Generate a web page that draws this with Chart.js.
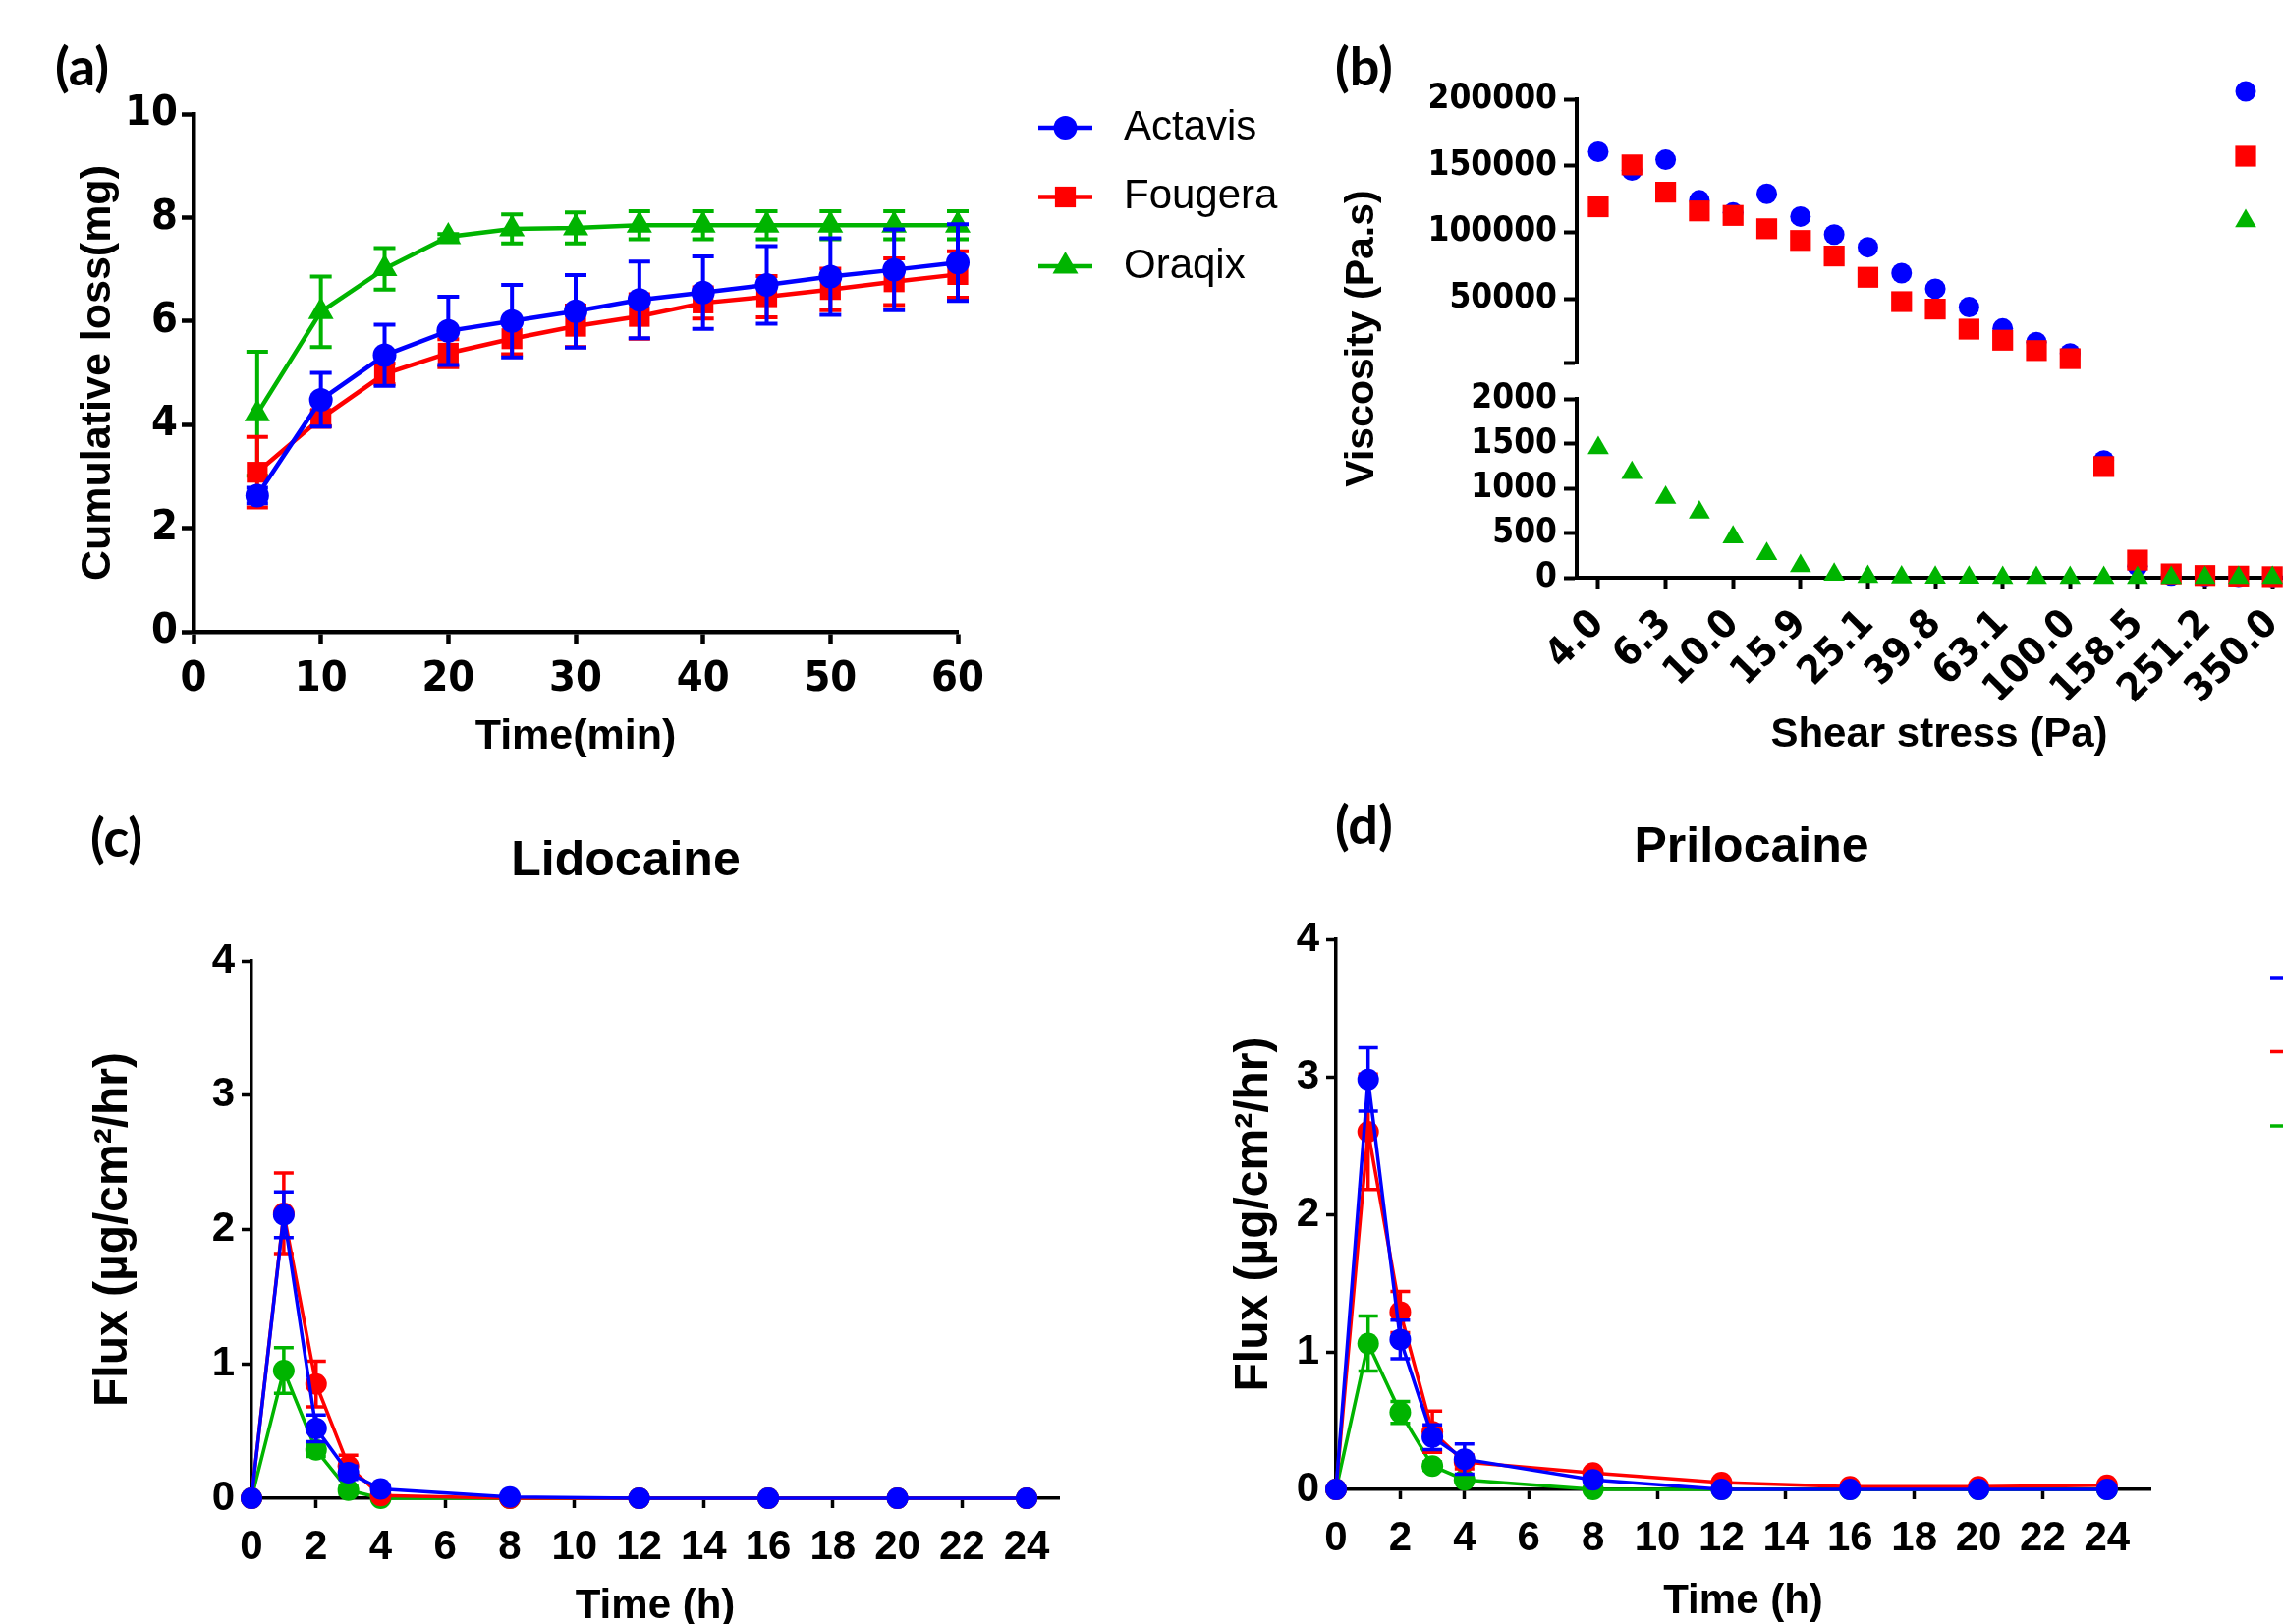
<!DOCTYPE html>
<html>
<head>
<meta charset="utf-8">
<title>Figura</title>
<script src="https://cdn.jsdelivr.net/npm/chart.js@4.4.1/dist/chart.umd.min.js"></script>
<style>
    html, body { margin: 0; padding: 0; background: #fff; }
    body { width: 2324px; height: 1653px; position: relative; overflow: hidden; }
    canvas { position: absolute; }
</style>
</head>
<body>
<canvas id="chartPerdida" width="1320" height="800" style="left:0px;top:0px"></canvas>
<canvas id="chartViscosidad" width="1100" height="800" style="left:1330px;top:0px"></canvas>
<canvas id="chartLidocaina" width="1200" height="870" style="left:0px;top:820px"></canvas>
<canvas id="chartPrilocaina" width="1160" height="890" style="left:1230px;top:800px"></canvas>
<script>
// ---- (a) Pérdida acumulada ----
const tiemposMin = [5, 10, 15, 20, 25, 30, 35, 40, 45, 50, 55, 60];
const perdidaActavis = [2.63, 4.48, 5.34, 5.81, 6.00, 6.19, 6.41, 6.55, 6.70, 6.86, 6.99, 7.13];
const sdPerdidaActavis = [0.15, 0.52, 0.59, 0.66, 0.70, 0.70, 0.74, 0.70, 0.75, 0.74, 0.78, 0.74];
const perdidaFougera = [3.08, 4.12, 4.98, 5.38, 5.66, 5.90, 6.09, 6.35, 6.47, 6.61, 6.76, 6.90];
const sdPerdidaFougera = [0.68, 0.15, 0.20, 0.27, 0.30, 0.40, 0.43, 0.30, 0.40, 0.40, 0.45, 0.45];
const perdidaOraqix = [4.21, 6.18, 7.01, 7.63, 7.78, 7.80, 7.85, 7.85, 7.85, 7.85, 7.85, 7.85];
const sdPerdidaOraqix = [1.20, 0.68, 0.40, 0.05, 0.28, 0.30, 0.27, 0.27, 0.27, 0.27, 0.27, 0.27];

// ---- (b) Viscosidad vs esfuerzo de corte ----
const esfuerzoCorte = ['4.0', '5.0', '6.3', '7.9', '10.0', '12.6', '15.9', '20.0', '25.1', '31.6', '39.8',
    '50.1', '63.1', '79.4', '100.0', '125.9', '158.5', '199.5', '251.2', '316.2', '350.0'];
const viscActavis = [160500, 146400, 154500, 124000, 114800, 128900, 111800, 98200, 88700, 69200, 57500,
    43700, 27600, 17300, 8800, 1310, 130, 25, 15, 10, 8];
const viscFougera = [119100, 150600, 130100, 116000, 112600, 102600, 93800, 82100, 66100, 47800, 42200,
    27100, 18800, 11000, 4900, 1243, 197, 43, 25, 18, 12];
const viscOraqix = [1451, 1173, 896, 731, 453, 267, 133, 37, 10, 5, 3, 2, 1, 1, 0, 0, 0, 0, 0, 0, 0];
const ticksViscArriba = [2000, 50000, 100000, 150000, 200000];
const ticksViscAbajo = [0, 500, 1000, 1500, 2000];
const corteEje = 2000; // límite entre los dos tramos del eje Y

// ---- (c) y (d) Flujo ----
const tiemposH = [0, 1, 2, 3, 4, 8, 12, 16, 20, 24];
const ticksTiempoH = [0, 2, 4, 6, 8, 10, 12, 14, 16, 18, 20, 22, 24];
const lidoActavis = [0, 2.11, 0.52, 0.19, 0.07, 0.01, 0, 0, 0, 0];
const sdLidoActavis = [0, 0.17, 0.10, 0.05, 0.03, 0, 0, 0, 0, 0];
const lidoFougera = [0, 2.12, 0.85, 0.24, 0.02, 0, 0, 0, 0, 0];
const sdLidoFougera = [0, 0.30, 0.17, 0.08, 0.02, 0, 0, 0, 0, 0];
const lidoOraqix = [0, 0.95, 0.36, 0.06, 0, 0, 0, 0, 0, 0];
const sdLidoOraqix = [0, 0.17, 0.05, 0.03, 0, 0, 0, 0, 0, 0];
const priloActavis = [0, 2.98, 1.09, 0.38, 0.22, 0.07, 0, 0, 0, 0];
const sdPriloActavis = [0, 0.23, 0.14, 0.09, 0.11, 0.02, 0, 0, 0, 0];
const priloFougera = [0, 2.60, 1.29, 0.42, 0.20, 0.12, 0.05, 0.02, 0.02, 0.03];
const sdPriloFougera = [0, 0.42, 0.15, 0.15, 0.05, 0.02, 0.01, 0, 0, 0];
const priloOraqix = [0, 1.06, 0.56, 0.17, 0.07, 0, 0, 0, 0, 0];
const sdPriloOraqix = [0, 0.20, 0.08, 0.03, 0.02, 0, 0, 0, 0, 0];

const AZUL = '#0000FF';
const ROJO = '#FF0000';
const VERDE = '#00B400';
const NEGRO = '#000000';
const FUENTE = '"Liberation Sans", Arial, Helvetica, sans-serif';
const FUENTE_ANGOSTA = '"Liberation Sans Narrow", "Arial Narrow", "DejaVu Sans Condensed", "Liberation Sans", sans-serif';

Chart.defaults.font.family = FUENTE;
Chart.defaults.color = NEGRO;

// Barras de error (media ± SD), se dibujan antes de cada serie
const barrasError = {
    id: 'barrasError',
    beforeDatasetDraw(chart, args, opts) {
        const ds = chart.data.datasets[args.index];
        if (!ds.errores) return;
        const escalaY = chart.scales[args.meta.yAxisID];
        const ctx = chart.ctx;
        ctx.save();
        ctx.strokeStyle = ds.borderColor;
        ctx.lineWidth = opts.grosor;
        args.meta.data.forEach((pt, i) => {
            const e = ds.errores[i];
            if (!e) return;
            const v = ds.data[i].y;
            const yArriba = escalaY.getPixelForValue(v + e);
            const yAbajo = escalaY.getPixelForValue(v - e);
            const m = opts.tapa / 2;
            ctx.beginPath();
            ctx.moveTo(pt.x, yAbajo);
            ctx.lineTo(pt.x, yArriba);
            ctx.moveTo(pt.x - m, yArriba);
            ctx.lineTo(pt.x + m, yArriba);
            ctx.moveTo(pt.x - m, yAbajo);
            ctx.lineTo(pt.x + m, yAbajo);
            ctx.stroke();
        });
        ctx.restore();
    }
};

// Letra del panel: (a), (b), ...
const etiquetaPanel = {
    id: 'etiquetaPanel',
    afterDraw(chart, args, opts) {
        if (!opts.texto) return;
        const ctx = chart.ctx;
        ctx.save();
        ctx.font = 'bold 54px Lato, "Open Sans", sans-serif';
        ctx.fillStyle = NEGRO;
        ctx.textBaseline = 'middle';
        ctx.fillText(opts.texto, opts.x, opts.y);
        ctx.restore();
    }
};

function dibujarMarca(ctx, estilo, x, y, r) {
    ctx.beginPath();
    if (estilo === 'rect') {
        const s = r * Math.SQRT1_2;
        ctx.rect(x - s, y - s, 2 * s, 2 * s);
    } else if (estilo === 'triangle') {
        ctx.moveTo(x, y - r);
        ctx.lineTo(x + r * 0.866, y + r * 0.5);
        ctx.lineTo(x - r * 0.866, y + r * 0.5);
        ctx.closePath();
    } else {
        ctx.arc(x, y, r, 0, Math.PI * 2);
    }
    ctx.fill();
}

// Leyenda estilo GraphPad (línea + símbolo + texto)
const leyendaLateral = {
    id: 'leyendaLateral',
    afterDraw(chart, args, opts) {
        if (opts.x === undefined) return;
        const ctx = chart.ctx;
        ctx.save();
        const series = chart.data.datasets.filter(ds => ds.enLeyenda !== false);
        series.forEach((ds, i) => {
            const y = opts.y + i * opts.paso;
            if (opts.largoLinea > 0) {
                ctx.strokeStyle = ds.borderColor;
                ctx.lineWidth = ds.borderWidth;
                ctx.beginPath();
                ctx.moveTo(opts.x, y);
                ctx.lineTo(opts.x + opts.largoLinea, y);
                ctx.stroke();
            }
            ctx.fillStyle = ds.backgroundColor;
            dibujarMarca(ctx, ds.pointStyle, opts.x + opts.largoLinea / 2, y, ds.pointRadius);
            ctx.fillStyle = NEGRO;
            ctx.font = opts.fuente;
            ctx.textBaseline = 'middle';
            ctx.fillText(ds.label, opts.x + Math.max(opts.largoLinea, 0) + opts.separacion, y);
        });
        ctx.restore();
    }
};

function estiloEje(grosor, largoTick) {
    return {
        border: { display: true, color: NEGRO, width: grosor },
        grid: { display: true, drawOnChartArea: false, drawTicks: true, tickLength: largoTick, tickWidth: grosor, tickColor: NEGRO }
    };
}

const ejeOculto = {
    grid: { display: false },
    border: { display: false },
    ticks: { display: false }
};

function serieLinea(etiqueta, xs, ys, sd, color, estilo, radio, grosor) {
    return {
        label: etiqueta,
        data: xs.map((x, i) => ({ x: x, y: ys[i] })),
        errores: sd,
        borderColor: color,
        backgroundColor: color,
        borderWidth: grosor,
        pointStyle: estilo,
        pointRadius: radio,
        pointHoverRadius: radio,
        pointBorderWidth: 0,
        tension: 0,
        fill: false,
        clip: false
    };
}

// ================= (a) =================
new Chart(document.getElementById('chartPerdida'), {
    type: 'line',
    data: {
        datasets: [
            serieLinea('Actavis', tiemposMin, perdidaActavis, sdPerdidaActavis, AZUL, 'circle', 12, 4.5),
            serieLinea('Fougera', tiemposMin, perdidaFougera, sdPerdidaFougera, ROJO, 'rect', 15, 4.5),
            serieLinea('Oraqix', tiemposMin, perdidaOraqix, sdPerdidaOraqix, VERDE, 'triangle', 15, 4.5)
        ]
    },
    options: {
        responsive: false,
        animation: false,
        devicePixelRatio: 1,
        layout: { padding: { left: 56, top: 116, right: 345, bottom: 0 } },
        scales: {
            x: {
                type: 'linear', min: 0, max: 60,
                ...estiloEje(4.5, 12),
                ticks: { stepSize: 10, padding: 11, color: NEGRO, font: { size: 43, weight: 'bold', family: FUENTE_ANGOSTA } },
                title: { display: true, text: 'Time(min)', color: NEGRO, font: { size: 43, weight: 'bold', lineHeight: 1 }, padding: { top: 0, bottom: 28 } },
                afterFit: s => { s.height = 157; }
            },
            y: {
                min: 0, max: 10,
                ...estiloEje(4.5, 12),
                ticks: { stepSize: 2, padding: 4, autoSkip: false, color: NEGRO, font: { size: 43, weight: 'bold', family: FUENTE_ANGOSTA } },
                title: { display: true, text: 'Cumulative loss(mg)', color: NEGRO, font: { size: 43, weight: 'bold', lineHeight: 1 }, padding: { top: 23, bottom: 0 } },
                afterFit: s => { s.width = 141; }
            }
        },
        plugins: {
            legend: { display: false },
            tooltip: { enabled: false },
            barrasError: { grosor: 4, tapa: 22 },
            etiquetaPanel: { texto: '(a)', x: 56, y: 70 },
            leyendaLateral: { x: 1057, y: 130, paso: 70.5, largoLinea: 55, separacion: 32, fuente: '42px ' + FUENTE }
        }
    },
    plugins: [barrasError, etiquetaPanel, leyendaLateral]
});

// ================= (b) =================
function puntosTramo(valores, condicion) {
    return valores.map((v, i) => ({ x: i, y: v })).filter(p => condicion(p.y));
}

function serieDispersion(etiqueta, datos, color, estilo, radio, eje, orden, enLeyenda) {
    return {
        label: etiqueta,
        data: datos,
        yAxisID: eje,
        order: orden,
        enLeyenda: enLeyenda,
        borderColor: color,
        backgroundColor: color,
        borderWidth: 0,
        pointStyle: estilo,
        pointRadius: radio,
        pointHoverRadius: radio,
        pointBorderWidth: 0,
        showLine: false,
        clip: false
    };
}

const arriba = v => v >= corteEje;
const abajo = v => v < corteEje;

new Chart(document.getElementById('chartViscosidad'), {
    type: 'scatter',
    data: {
        datasets: [
            serieDispersion('Actavis', puntosTramo(viscActavis, arriba), AZUL, 'circle', 10.5, 'yArriba', 2, true),
            serieDispersion('Fougera', puntosTramo(viscFougera, arriba), ROJO, 'rect', 15, 'yArriba', 1, true),
            serieDispersion('Oraqix', puntosTramo(viscOraqix, arriba), VERDE, 'triangle', 12.5, 'yArriba', 0, true),
            serieDispersion('Actavis', puntosTramo(viscActavis, abajo), AZUL, 'circle', 10.5, 'yAbajo', 2, false),
            serieDispersion('Fougera', puntosTramo(viscFougera, abajo), ROJO, 'rect', 15, 'yAbajo', 1, false),
            serieDispersion('Oraqix', puntosTramo(viscOraqix, abajo), VERDE, 'triangle', 12.5, 'yAbajo', 0, false)
        ]
    },
    options: {
        responsive: false,
        animation: false,
        devicePixelRatio: 1,
        layout: { padding: { left: 29, top: 101, right: 87, bottom: 0 } },
        scales: {
            x: {
                type: 'linear', min: -0.64, max: 20.87,
                ...estiloEje(4, 12),
                afterBuildTicks: s => {
                    s.ticks = esfuerzoCorte.map((t, i) => ({ value: i })).filter(t => t.value % 2 === 0);
                },
                ticks: {
                    autoSkip: false, minRotation: 45, maxRotation: 45, padding: 12, color: NEGRO,
                    font: { size: 40, weight: 'bold', family: FUENTE_ANGOSTA },
                    callback: v => esfuerzoCorte[v]
                },
                title: { display: true, text: 'Shear stress (Pa)', color: NEGRO, font: { size: 42, weight: 'bold', lineHeight: 1 }, padding: { top: 0, bottom: 31 } },
                afterFit: s => { s.height = 212; }
            },
            yTitulo: {
                type: 'linear', position: 'left', weight: 10, min: 0, max: 1,
                ...ejeOculto,
                title: { display: true, text: 'Viscosity (Pa.s)', color: NEGRO, font: { size: 41, weight: 'bold', lineHeight: 1 }, padding: { top: 7, bottom: 0 } },
                afterFit: s => { s.width = 60; }
            },
            yArriba: {
                type: 'linear', position: 'left', stack: 'visc', stackWeight: 268, weight: 3,
                min: 2000, max: 200000,
                ...estiloEje(4, 13),
                afterBuildTicks: s => { s.ticks = ticksViscArriba.map(v => ({ value: v })); },
                ticks: { padding: 7, autoSkip: false, color: NEGRO, font: { size: 35, weight: 'bold', family: FUENTE_ANGOSTA }, callback: v => (v === corteEje ? '' : String(v)) },
                afterFit: s => { s.width = 186; }
            },
            yHueco: {
                type: 'linear', position: 'left', stack: 'visc', stackWeight: 37, weight: 2, min: 0, max: 1,
                ...ejeOculto,
                afterFit: s => { s.width = 186; }
            },
            yAbajo: {
                type: 'linear', position: 'left', stack: 'visc', stackWeight: 182, weight: 1,
                min: 0, max: 2000,
                ...estiloEje(4, 13),
                afterBuildTicks: s => { s.ticks = ticksViscAbajo.map(v => ({ value: v })); },
                ticks: { padding: 7, autoSkip: false, color: NEGRO, font: { size: 35, weight: 'bold', family: FUENTE_ANGOSTA }, callback: v => String(v) },
                afterFit: s => { s.width = 186; }
            }
        },
        plugins: {
            legend: { display: false },
            tooltip: { enabled: false },
            etiquetaPanel: { texto: '(b)', x: 29, y: 70 },
            leyendaLateral: { x: 956, y: 93, paso: 66, largoLinea: 0, separacion: 42, fuente: '42px ' + FUENTE }
        }
    },
    plugins: [etiquetaPanel, leyendaLateral]
});

// ================= (c) y (d) =================
function graficaFlujo(idCanvas, titulo, series, cfg) {
    return new Chart(document.getElementById(idCanvas), {
        type: 'line',
        data: { datasets: series },
        options: {
            responsive: false,
            animation: false,
            devicePixelRatio: 1,
            layout: { padding: { left: cfg.padIzq, top: 0, right: cfg.padDer, bottom: 0 } },
            scales: {
                x: {
                    type: 'linear', min: 0, max: cfg.maxX,
                    ...estiloEje(3.5, 10),
                    afterBuildTicks: s => { s.ticks = ticksTiempoH.map(v => ({ value: v })); },
                    ticks: { padding: 15, autoSkip: false, color: NEGRO, font: { size: 42, weight: 'bold' } },
                    title: { display: true, text: 'Time (h)', color: NEGRO, font: { size: 42, weight: 'bold', lineHeight: 1 }, padding: { top: 0, bottom: cfg.padTituloX } },
                    afterFit: s => { s.height = cfg.altoEjeX; }
                },
                y: {
                    min: 0, max: 4,
                    ...estiloEje(3.5, 10),
                    ticks: { stepSize: 1, padding: 7, autoSkip: false, color: NEGRO, font: { size: 42, weight: 'bold' } },
                    title: { display: true, text: 'Flux (µg/cm²/hr)', color: NEGRO, font: { size: 48, weight: 'bold', lineHeight: 1 }, padding: { top: cfg.padTituloY, bottom: 0 } },
                    afterFit: s => { s.width = cfg.anchoEjeY; }
                },
                yDer: {
                    type: 'linear', position: 'right', min: 0, max: 1,
                    ...ejeOculto,
                    afterFit: s => { s.width = cfg.anchoDer; }
                }
            },
            plugins: {
                legend: { display: false },
                tooltip: { enabled: false },
                title: { display: true, text: titulo, color: NEGRO, font: { size: 50, weight: 'bold', lineHeight: 1 }, padding: { top: cfg.tituloArriba, bottom: cfg.tituloAbajo } },
                barrasError: { grosor: 3.5, tapa: 20 },
                etiquetaPanel: cfg.etiqueta,
                leyendaLateral: cfg.leyenda || {}
            }
        },
        plugins: [barrasError, etiquetaPanel, leyendaLateral]
    });
}

graficaFlujo('chartLidocaina', 'Lidocaine', [
    serieLinea('Actavis', tiemposH, lidoActavis, sdLidoActavis, AZUL, 'circle', 11, 3.5),
    serieLinea('Fougera', tiemposH, lidoFougera, sdLidoFougera, ROJO, 'circle', 11, 3.5),
    serieLinea('Oraqix', tiemposH, lidoOraqix, sdLidoOraqix, VERDE, 'circle', 11, 3.5)
], {
    padIzq: 92, padDer: 18, anchoEjeY: 164, anchoDer: 104, altoEjeX: 165, maxX: 25,
    padTituloX: 34, padTituloY: 0, tituloArriba: 32, tituloAbajo: 76,
    etiqueta: { texto: '(c)', x: 92, y: 35 }
});

graficaFlujo('chartPrilocaina', 'Prilocaine', [
    serieLinea('Actavis', tiemposH, priloActavis, sdPriloActavis, AZUL, 'circle', 11, 3.5),
    serieLinea('Fougera', tiemposH, priloFougera, sdPriloFougera, ROJO, 'circle', 11, 3.5),
    serieLinea('Oraqix', tiemposH, priloOraqix, sdPriloOraqix, VERDE, 'circle', 11, 3.5)
], {
    padIzq: 20, padDer: 74, anchoEjeY: 110, anchoDer: 127, altoEjeX: 174, maxX: 25.35,
    padTituloX: 39, padTituloY: 3, tituloArriba: 38, tituloAbajo: 68,
    etiqueta: { texto: '(d)', x: 129, y: 42 },
    leyenda: { x: 1081, y: 195, paso: 75.5, largoLinea: 55, separacion: 32, fuente: '42px ' + FUENTE }
});
</script>
</body>
</html>
